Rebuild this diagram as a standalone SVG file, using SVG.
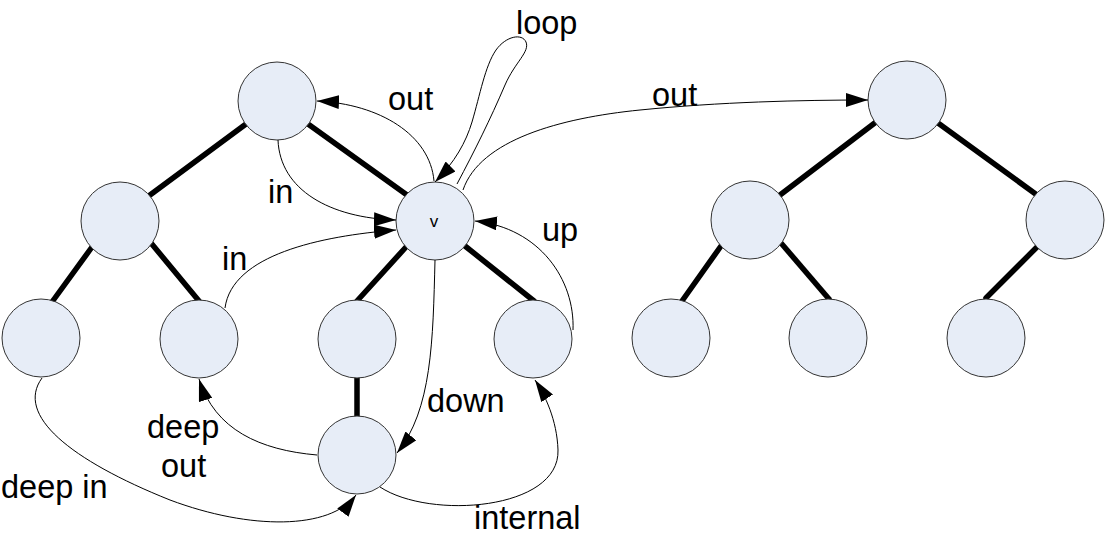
<svg xmlns="http://www.w3.org/2000/svg" width="1105" height="547" viewBox="0 0 1105 547">
<style>
.node{fill:#E7EDF7;stroke:#333;stroke-width:1}
.tree{stroke:#000;stroke-width:5.5;stroke-linecap:round;fill:none}
.conn{stroke:#000;stroke-width:1;fill:none;marker-end:url(#arr)}
.lbl{font-family:"Liberation Sans",Arial,sans-serif;font-size:32.5px;fill:#000}
.small{font-family:"Liberation Sans",Arial,sans-serif;font-size:17px;fill:#000;text-anchor:middle}
</style>
<defs>
<marker id="arr" markerUnits="userSpaceOnUse" markerWidth="22" markerHeight="14" refX="22" refY="7" orient="auto">
<path d="M0,0 L22,7 L0,14 z" fill="#000"/>
</marker>
</defs>
<g id="tree-edges">
<line class="tree" x1="246" y1="124" x2="150" y2="195"/>
<line class="tree" x1="308" y1="124" x2="407" y2="195"/>
<line class="tree" x1="92" y1="247" x2="52" y2="302"/>
<line class="tree" x1="151" y1="243" x2="199" y2="301"/>
<line class="tree" x1="406" y1="247" x2="357" y2="301"/>
<line class="tree" x1="465" y1="246" x2="534" y2="301"/>
<line class="tree" x1="357" y1="377" x2="357" y2="416"/>
<line class="tree" x1="876" y1="122" x2="780" y2="195"/>
<line class="tree" x1="938" y1="123" x2="1037" y2="195"/>
<line class="tree" x1="721" y1="246" x2="682" y2="301"/>
<line class="tree" x1="781" y1="243" x2="829" y2="299"/>
<line class="tree" x1="1037" y1="247" x2="986" y2="298"/>
</g>
<g id="nodeA"><circle class="node" cx="277" cy="101" r="39"/></g>
<g id="nodeB"><circle class="node" cx="120" cy="221" r="39"/></g>
<g id="nodeV"><circle class="node" cx="435" cy="221" r="39"/><text class="small" x="434" y="227">v</text></g>
<g id="nodeD"><circle class="node" cx="41" cy="338" r="39"/></g>
<g id="nodeE"><circle class="node" cx="199" cy="339" r="39"/></g>
<g id="nodeF"><circle class="node" cx="357" cy="339" r="39"/></g>
<g id="nodeG"><circle class="node" cx="533" cy="339" r="39"/></g>
<g id="nodeH"><circle class="node" cx="357" cy="455" r="39"/></g>
<g id="nodeR1"><circle class="node" cx="907" cy="100" r="39"/></g>
<g id="nodeR2"><circle class="node" cx="750" cy="220" r="39"/></g>
<g id="nodeR3"><circle class="node" cx="1065" cy="220" r="39"/></g>
<g id="nodeR4"><circle class="node" cx="671" cy="338" r="39"/></g>
<g id="nodeR5"><circle class="node" cx="828" cy="338" r="39"/></g>
<g id="nodeR6"><circle class="node" cx="986" cy="338" r="39"/></g>
<g id="connectors">
<path class="conn" d="M434,181 C 430,135 380,104 317,101"/>
<path class="conn" d="M278,140 C 280,190 330,218 396,220"/>
<path class="conn" d="M225,308 C 232,255 320,236 396,230"/>
<path class="conn" d="M457,184 C 475,150 490,120 505,85 C 515,62 530,52 526,42 C 522,33 506,36 496,50 C 485,66 480,95 472,122 C 466,142 455,162 435,182"/>
<path class="conn" d="M463,190 C 480,140 560,118 640,110 C 720,102 800,100 868,100"/>
<path class="conn" d="M573,330 C 575,280 540,228 475,221"/>
<path class="conn" d="M435,260 C 433,340 432,410 397,453"/>
<path class="conn" d="M380,487 C 430,520 560,510 558,450 C 557,420 545,395 535,380"/>
<path class="conn" d="M317,455 C 260,450 215,430 199,379"/>
<path class="conn" d="M42,378 C 15,415 70,460 170,500 C 250,530 330,530 356,495"/>
</g>
<g id="labels">
<text class="lbl" x="516" y="34">loop</text>
<text class="lbl" x="388" y="110">out</text>
<text class="lbl" x="268" y="203">in</text>
<text class="lbl" x="222" y="270">in</text>
<text class="lbl" x="542" y="241">up</text>
<text class="lbl" x="652" y="106">out</text>
<text class="lbl" x="427" y="412">down</text>
<text class="lbl" x="147" y="438">deep</text>
<text class="lbl" x="161" y="477">out</text>
<text class="lbl" x="1" y="498">deep in</text>
<text class="lbl" x="474" y="529">internal</text>
</g>
</svg>
